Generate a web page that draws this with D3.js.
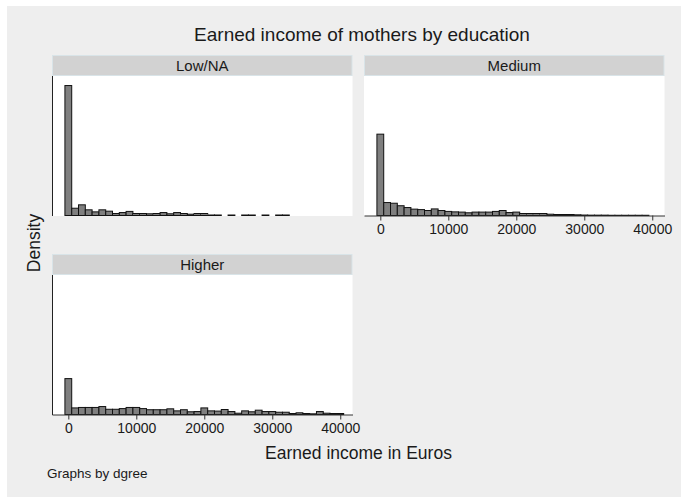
<!DOCTYPE html>
<html><head><meta charset="utf-8">
<script src="https://cdn.jsdelivr.net/npm/d3@7"></script>
<style>body{margin:0;background:#fff}text{font-family:"Liberation Sans",Arial,sans-serif;fill:#1a1a1a}</style>
</head><body><svg id="c" width="681" height="498"></svg>
<script>
// ---- data (density per bin of width 1000, bins centred on these values) ----
const binCenters = [0,1000,2000,3000,4000,5000,6000,7000,8000,9000,10000,11000,12000,13000,14000,15000,16000,17000,18000,19000,20000,21000,22000,23000,24000,25000,26000,27000,28000,29000,30000,31000,32000,33000,34000,35000,36000,37000,38000,39000,40000];
const panelNames = ["Low/NA","Medium","Higher"];
const lowNA = [5.72e-4,3.2e-5,4.7e-5,2.5e-5,1.6e-5,2.5e-5,1.9e-5,8.8e-6,1.3e-5,1.8e-5,8.8e-6,8.8e-6,7.5e-6,8.8e-6,1.3e-5,7.5e-6,1.3e-5,8.8e-6,5.7e-6,8.8e-6,8.8e-6,2.2e-6,2.2e-6,null,2.2e-6,null,2.2e-6,2.2e-6,null,2.2e-6,null,2.2e-6,2.2e-6];
const medium = [3.58e-4,5.7e-5,5.4e-5,4.3e-5,3.5e-5,2.8e-5,2.6e-5,2.2e-5,2.9e-5,2.2e-5,1.8e-5,1.6e-5,1.5e-5,1.2e-5,1.5e-5,1.5e-5,1.5e-5,1.8e-5,2.2e-5,1.3e-5,1.5e-5,8.8e-6,8.8e-6,8.8e-6,8.8e-6,5.7e-6,4.4e-6,4.4e-6,4.4e-6,3e-6,2e-6,1.5e-6,1.5e-6,1.5e-6,1e-6,1e-6,1e-6,1e-6,1e-6,1e-6];
const higher = [1.58e-4,2.9e-5,3.1e-5,3.1e-5,3.1e-5,3.5e-5,2.3e-5,2.3e-5,2.6e-5,3.1e-5,3.1e-5,2.6e-5,2.1e-5,2.1e-5,2.1e-5,2.5e-5,1.6e-5,2.1e-5,1.2e-5,1.3e-5,2.9e-5,1.6e-5,1.5e-5,2.2e-5,1.3e-5,5.7e-6,1.6e-5,1.2e-5,1.9e-5,1.3e-5,1.3e-5,1e-5,1e-5,4.4e-6,7.5e-6,4.4e-6,3e-6,1.3e-5,5.7e-6,4.4e-6,4.4e-6];
const xTicks = [0,10000,20000,30000,40000];
const binWidth = 1000;
const titleText = "Earned income of mothers by education";
const xTitle = "Earned income in Euros";
const yTitle = "Density";
const note = "Graphs by dgree";

// ---- layout ----
const svg = d3.select("#c");
svg.append("rect").attr("x",7).attr("y",6).attr("width",674).attr("height",491).attr("fill","#eeeeee");

const PW = 300.5, PH = 140, SH = 21;
const x = d3.scaleLinear().domain([-2400, 41800]).range([0, PW]);
const y = d3.scaleLinear().domain([0, 6.14e-4]).range([PH - 0.5, 0]);

const panels = [
  {name: panelNames[0], vals: lowNA,  left: 52,  top: 76,  xaxis: false, yaxis: true},
  {name: panelNames[1], vals: medium, left: 364, top: 76,  xaxis: true,  yaxis: false},
  {name: panelNames[2], vals: higher, left: 52,  top: 275, xaxis: true,  yaxis: true}
];

panels.forEach(p => {
  const g = svg.append("g").attr("transform", `translate(${p.left},${p.top})`);
  // strip
  g.append("rect").attr("x",0.5).attr("y",-SH+0.5).attr("width",PW-1).attr("height",SH-1)
    .attr("fill","#d2d2d2").attr("stroke","#d9e4e8").attr("stroke-width",1);
  g.append("text").attr("x",PW/2).attr("y",-SH/2).attr("dy","0.36em").attr("text-anchor","middle")
    .style("font-size","15px").text(p.name);
  // plot region
  g.append("rect").attr("x",0).attr("y",0).attr("width",PW).attr("height",PH).attr("fill","#fff");
  // bars
  const data = p.vals.map((v,i)=>({c: binCenters[i], v})).filter(d=>d.v!=null);
  g.selectAll("rect.bar").data(data).join("rect").attr("class","bar")
    .attr("x", d=>x(d.c - binWidth/2))
    .attr("width", d=>x(d.c + binWidth/2) - x(d.c - binWidth/2))
    .attr("y", d=>y(d.v))
    .attr("height", d=>Math.max(0.01, y(0)-y(d.v)))
    .attr("fill","#7f7f7f").attr("stroke","#111").attr("stroke-width",1);
  if (p.yaxis) {
    const ya = g.append("g").call(d3.axisLeft(y).tickValues([]).tickSizeOuter(0));
    ya.select(".domain").attr("stroke","#222").attr("d", `M0.5,0V${PH}`);
  }
  if (p.xaxis) {
    const xa = g.append("g").attr("transform",`translate(0,${PH-0.5})`)
      .call(d3.axisBottom(x).tickValues(xTicks).tickFormat(d3.format("d")).tickSize(5).tickSizeOuter(0).tickPadding(4));
    xa.select(".domain").attr("stroke","#333");
    xa.selectAll(".tick line").attr("stroke","#333");
    xa.selectAll(".tick text").style("font-size","14px").style("font-family",'"Liberation Sans",Arial,sans-serif').attr("fill","#1a1a1a");
  }
});

// titles
svg.append("text").attr("x",362).attr("y",41).attr("text-anchor","middle").style("font-size","19px").text(titleText);
svg.append("text").attr("x",358.5).attr("y",459).attr("text-anchor","middle").style("font-size","17.5px").text(xTitle);
svg.append("text").attr("transform","translate(40,243) rotate(-90)").attr("text-anchor","middle").style("font-size","17.5px").text(yTitle);
svg.append("text").attr("x",47).attr("y",478).style("font-size","13.5px").text(note);
</script></body></html>
